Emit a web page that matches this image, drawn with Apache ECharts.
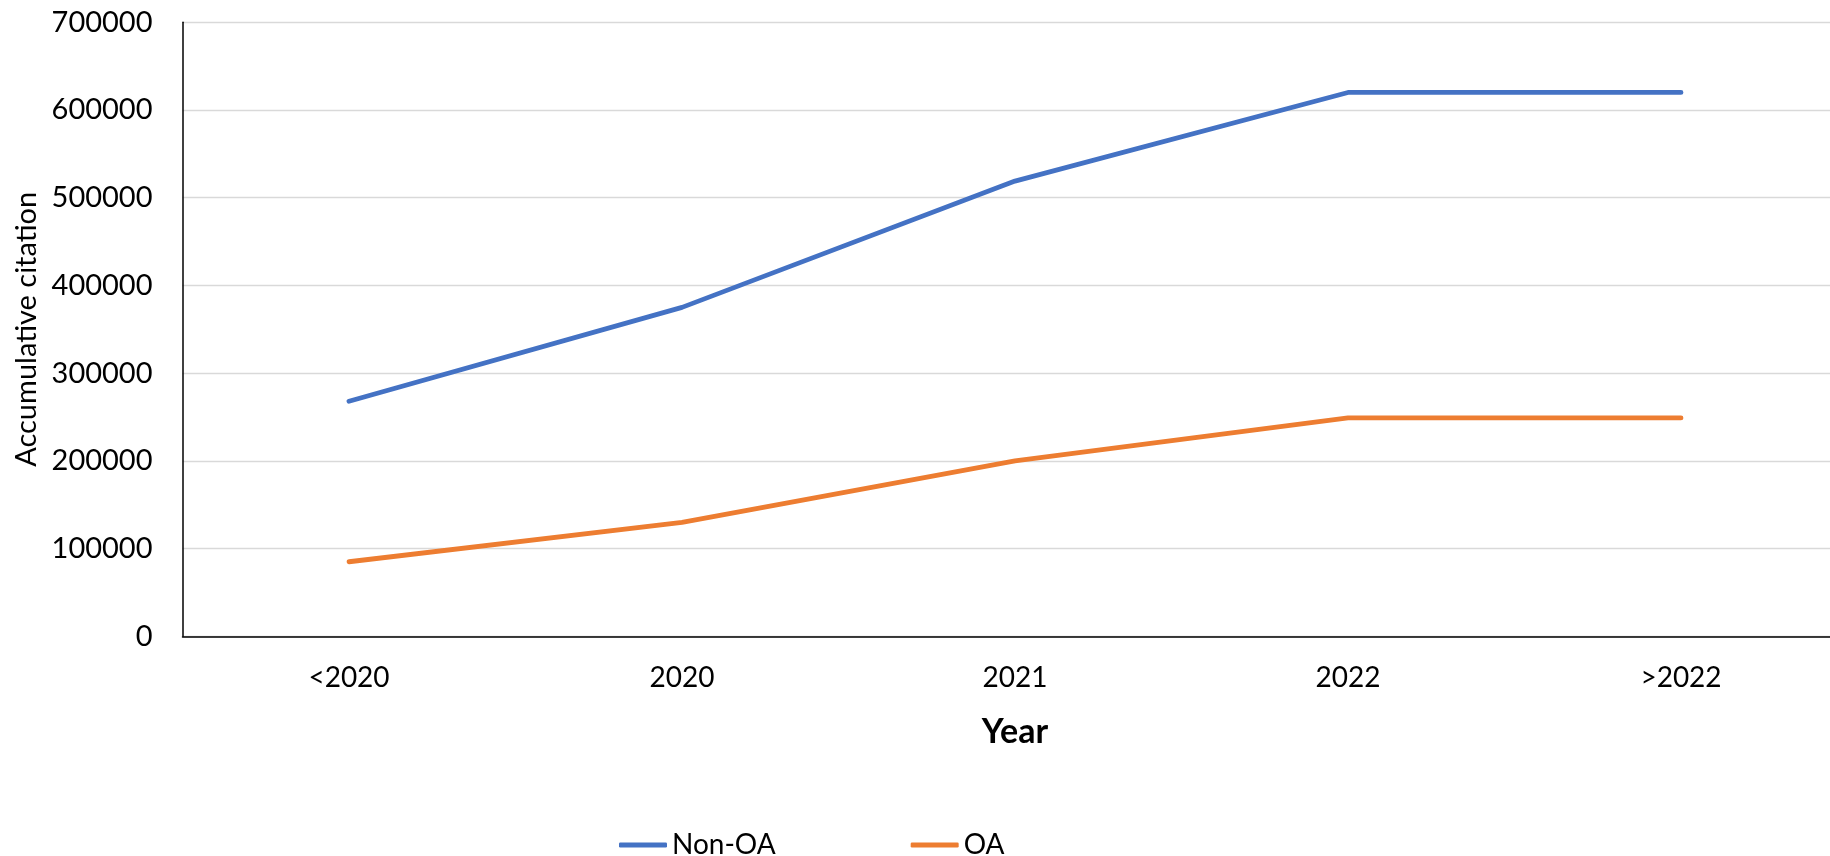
<!DOCTYPE html>
<html>
<head>
<meta charset="utf-8">
<script src="https://cdn.jsdelivr.net/npm/echarts@6/dist/echarts.min.js"></script>
<style>
html,body{margin:0;padding:0;background:#fff;}
#chart{width:1830px;height:856px;}
</style>
</head>
<body>
<div id="chart"></div>
<script>
const categories = ['<2020', '2020', '2021', '2022', '>2022'];
const nonOA = [268000, 375000, 519000, 620000, 620000];
const oa = [85000, 130000, 200000, 249000, 249000];
const yTicks = { min: 0, max: 700000, interval: 100000 };

const FONT = 'Lato';
const chart = echarts.init(document.getElementById('chart'), null, { renderer: 'canvas' });
chart.setOption({
  backgroundColor: '#ffffff',
  animation: false,
  grid: { left: 182.5, width: 1665, top: 22.3, height: 614, containLabel: false, outerBoundsMode: 'none' },
  legend: {
    left: 614, top: 826,
    itemWidth: 48, itemHeight: 5, itemGap: 135,
    icon: 'roundRect',
    textStyle: { fontFamily: FONT, fontSize: 28, color: '#000' },
    data: ['Non-OA', 'OA']
  },
  xAxis: {
    type: 'category',
    data: categories,
    boundaryGap: true,
    name: 'Year',
    nameLocation: 'middle',
    nameGap: 79,
    nameTextStyle: { fontFamily: FONT, fontSize: 34, fontWeight: 'bold', color: '#000' },
    axisLine: { show: true, lineStyle: { color: '#000', width: 1.5 } },
    axisTick: { show: false },
    axisLabel: { fontFamily: FONT, fontSize: 28, color: '#000', margin: 28 },
    splitLine: { show: false }
  },
  yAxis: {
    type: 'value',
    min: yTicks.min, max: yTicks.max, interval: yTicks.interval,
    name: 'Accumulative citation',
    nameLocation: 'middle',
    nameGap: 130,
    nameTextStyle: { fontFamily: FONT, fontSize: 29, color: '#000' },
    axisLine: { show: true, lineStyle: { color: '#000', width: 1.5 } },
    axisTick: { show: false },
    axisLabel: { fontFamily: FONT, fontSize: 29, color: '#000', margin: 30, formatter: function (v) { return String(v); } },
    splitLine: { show: true, lineStyle: { color: '#D9D9D9', width: 1.3 } }
  },
  series: [
    {
      name: 'Non-OA', type: 'line', data: nonOA,
      symbol: 'none', smooth: false,
      color: '#4472C4',
      lineStyle: { color: '#4472C4', width: 4.8, cap: 'round', join: 'round' },
      itemStyle: { color: '#4472C4' }
    },
    {
      name: 'OA', type: 'line', data: oa,
      symbol: 'none', smooth: false,
      color: '#ED7D31',
      lineStyle: { color: '#ED7D31', width: 4.8, cap: 'round', join: 'round' },
      itemStyle: { color: '#ED7D31' }
    }
  ]
});
</script>
</body>
</html>
